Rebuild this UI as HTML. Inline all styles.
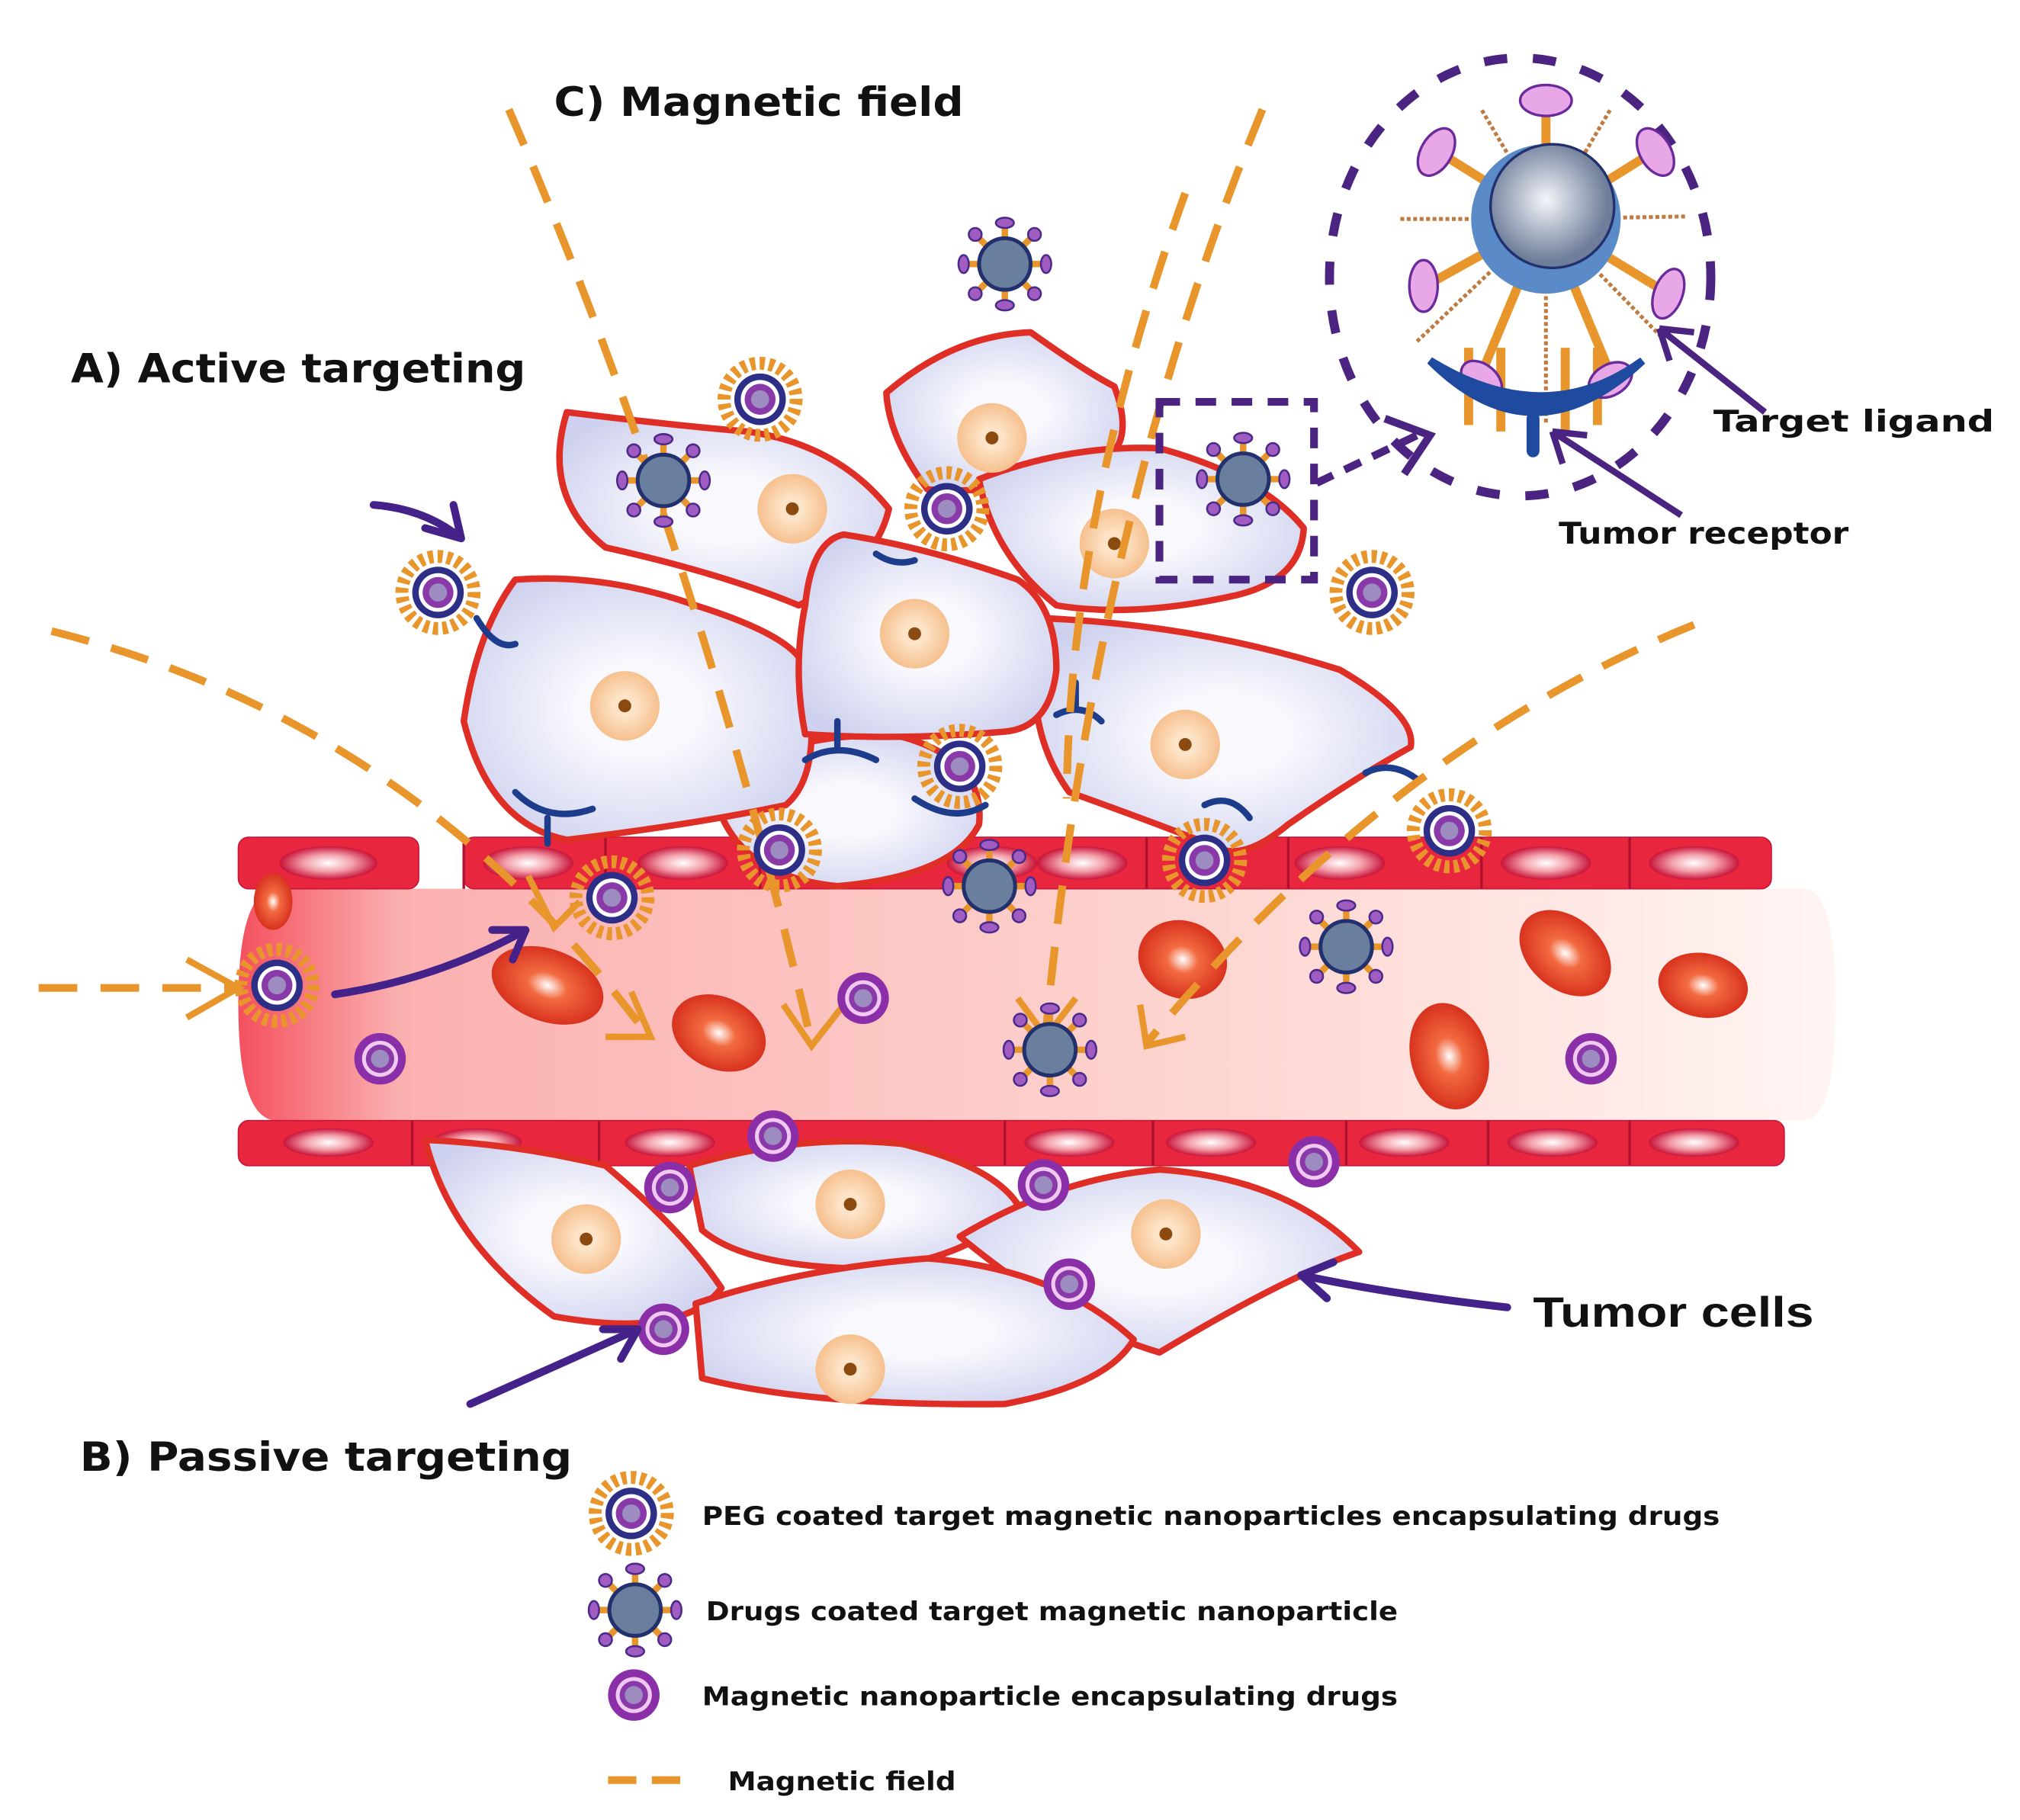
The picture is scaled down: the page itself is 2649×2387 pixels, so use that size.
<!DOCTYPE html>
<html><head><meta charset="utf-8"><style>html,body{margin:0;padding:0;background:#fff}svg{display:block}</style></head><body>
<svg width="2649" height="2387" viewBox="0 0 1568 1413" preserveAspectRatio="none" xmlns="http://www.w3.org/2000/svg" font-family="DejaVu Sans, Liberation Sans, sans-serif" font-weight="bold">
<defs>
<linearGradient id="lumen" x1="0" x2="1" y1="0" y2="0"><stop offset="0" stop-color="#f4505e"/><stop offset="0.1" stop-color="#fbb0b0"/><stop offset="0.6" stop-color="#fdd5d0"/><stop offset="1" stop-color="#fff5f3"/></linearGradient>
<radialGradient id="cellg" cx="0.5" cy="0.5" r="0.6"><stop offset="0.3" stop-color="#f8f8fd"/><stop offset="1" stop-color="#cdd0ee"/></radialGradient>
<radialGradient id="nuc"><stop offset="0.3" stop-color="#fde4c8"/><stop offset="1" stop-color="#f6c08e"/></radialGradient>
<radialGradient id="rbc"><stop offset="0" stop-color="#fff"/><stop offset="0.35" stop-color="#f26a40"/><stop offset="1" stop-color="#d8321e"/></radialGradient>
<radialGradient id="sph" cx="0.45" cy="0.45"><stop offset="0" stop-color="#f4f6fa"/><stop offset="1" stop-color="#6e7d99"/></radialGradient>
<radialGradient id="endo"><stop offset="0" stop-color="#fff"/><stop offset="0.5" stop-color="#f3a0aa"/><stop offset="1" stop-color="#c8143a"/></radialGradient>
<g id="peg">
<circle r="28" fill="none" stroke="#e8962c" stroke-width="10" stroke-dasharray="4 3.3"/>
<circle r="20" fill="#2c2f85"/><circle r="15" fill="#fff"/><circle r="12" fill="#8a3aa8"/><circle r="7" fill="#9c8cc0"/>
</g>
<g id="drug">
<g stroke="#e8962c" stroke-width="5"><line x1="0" y1="-32" x2="0" y2="32"/><line x1="-32" y1="0" x2="32" y2="0"/><line x1="-23" y1="-23" x2="23" y2="23"/><line x1="-23" y1="23" x2="23" y2="-23"/></g>
<g fill="#a05cc0" stroke="#4a2a8a" stroke-width="1.5"><ellipse cx="0" cy="-32" rx="7" ry="4"/><ellipse cx="0" cy="32" rx="7" ry="4"/><ellipse cx="-32" cy="0" rx="4" ry="7"/><ellipse cx="32" cy="0" rx="4" ry="7"/><ellipse cx="-23" cy="-23" rx="5" ry="5"/><ellipse cx="23" cy="23" rx="5" ry="5"/><ellipse cx="-23" cy="23" rx="5" ry="5"/><ellipse cx="23" cy="-23" rx="5" ry="5"/></g>
<circle r="20" fill="#6a7e9e" stroke="#23306e" stroke-width="3"/>
</g>
<g id="mag"><circle r="20" fill="#8a2fa8"/><circle r="14" fill="#f0c8f0"/><circle r="11" fill="#8a3aa8"/><circle r="7" fill="#9c8cc0"/></g>
<g id="cn"><circle r="27" fill="url(#nuc)"/><circle r="5" fill="#8a4a10"/></g>
</defs>
<rect width="1568" height="1413" fill="#fff"/>

<path d="M215 690 H1400 Q1425 690 1425 780 Q1425 870 1400 870 H215 Q185 870 185 780 Q185 690 215 690Z" fill="url(#lumen)"/>
<g fill="#e8273e" stroke="#c81538" stroke-width="1">
<rect x="185" y="650" width="140" height="40" rx="8"/><rect x="360" y="650" width="1015" height="40" rx="8"/>
<rect x="185" y="870" width="1200" height="35" rx="8"/>
</g>
<g fill="url(#endo)">
<ellipse cx="255" cy="670" rx="38" ry="13"/><ellipse cx="410" cy="670" rx="35" ry="13"/><ellipse cx="530" cy="670" rx="35" ry="13"/><ellipse cx="650" cy="670" rx="35" ry="13"/><ellipse cx="770" cy="670" rx="35" ry="13"/><ellipse cx="840" cy="670" rx="35" ry="13"/><ellipse cx="1040" cy="670" rx="35" ry="13"/><ellipse cx="1200" cy="670" rx="35" ry="13"/><ellipse cx="1315" cy="670" rx="35" ry="13"/>
<ellipse cx="255" cy="887" rx="35" ry="11"/><ellipse cx="370" cy="887" rx="35" ry="11"/><ellipse cx="520" cy="887" rx="35" ry="11"/><ellipse cx="830" cy="887" rx="35" ry="11"/><ellipse cx="940" cy="887" rx="35" ry="11"/><ellipse cx="1090" cy="887" rx="35" ry="11"/><ellipse cx="1205" cy="887" rx="35" ry="11"/><ellipse cx="1315" cy="887" rx="35" ry="11"/>
</g>
<g stroke="#b01030" stroke-width="2"><line x1="360" y1="650" x2="360" y2="690"/><line x1="470" y1="650" x2="470" y2="690"/><line x1="590" y1="650" x2="590" y2="690"/><line x1="890" y1="650" x2="890" y2="690"/><line x1="1000" y1="650" x2="1000" y2="690"/><line x1="1150" y1="650" x2="1150" y2="690"/><line x1="1265" y1="650" x2="1265" y2="690"/>
<line x1="320" y1="870" x2="320" y2="905"/><line x1="465" y1="870" x2="465" y2="905"/><line x1="780" y1="870" x2="780" y2="905"/><line x1="895" y1="870" x2="895" y2="905"/><line x1="1045" y1="870" x2="1045" y2="905"/><line x1="1155" y1="870" x2="1155" y2="905"/><line x1="1265" y1="870" x2="1265" y2="905"/></g>

<g fill="url(#rbc)">
<ellipse cx="212" cy="700" rx="15" ry="22"/>
<ellipse cx="425" cy="765" rx="45" ry="28" transform="rotate(20 425 765)"/>
<ellipse cx="558" cy="802" rx="38" ry="28" transform="rotate(25 558 802)"/>
<ellipse cx="918" cy="745" rx="35" ry="30" transform="rotate(20 918 745)"/>
<ellipse cx="1215" cy="740" rx="40" ry="28" transform="rotate(40 1215 740)"/>
<ellipse cx="1322" cy="765" rx="35" ry="25" transform="rotate(10 1322 765)"/>
<ellipse cx="1125" cy="820" rx="30" ry="42" transform="rotate(-15 1125 820)"/>
</g>

<g fill="url(#cellg)" stroke="#de2e26" stroke-width="5" stroke-linejoin="round">
<path d="M555 618 Q600 565 700 572 Q765 590 760 640 Q740 680 650 688 Q570 680 555 618Z"/>
<path d="M440 320 Q520 330 580 335 Q650 345 690 395 Q680 440 620 470 Q560 445 470 425 Q420 385 440 320Z"/>
<path d="M688 305 Q740 260 800 258 Q845 290 865 300 Q880 340 860 355 Q800 385 720 380 Q690 340 688 305Z"/>
<path d="M760 372 Q830 345 900 348 Q980 370 1012 410 Q1010 450 960 462 Q880 480 820 470 Q770 430 760 372Z"/>
<path d="M810 480 Q930 485 1040 520 Q1100 555 1095 580 Q1050 605 1000 640 Q970 665 950 660 Q900 640 830 615 Q790 560 810 480Z"/>
<path d="M400 450 Q470 445 540 470 Q620 495 625 520 Q640 600 610 625 Q540 640 440 652 Q380 640 360 560 Q370 490 400 450Z"/>
<path d="M655 415 Q720 425 790 450 Q820 470 820 520 Q815 565 780 568 Q700 575 625 570 Q615 520 625 470 Q630 420 655 415Z"/>
<path d="M330 885 Q400 888 470 905 Q530 955 560 1000 Q530 1040 430 1022 Q350 965 330 885Z"/>
<path d="M535 905 Q620 880 700 888 Q770 905 790 935 Q760 975 680 985 Q580 985 545 955Z"/>
<path d="M745 960 Q820 915 900 908 Q1000 915 1055 972 Q1000 990 900 1050 Q830 1030 745 960Z"/>
<path d="M540 1012 Q620 985 720 977 Q820 985 880 1040 Q860 1075 780 1090 Q630 1092 545 1070Z"/>
</g>
<g>
<use href="#cn" x="615" y="395"/><use href="#cn" x="770" y="340"/><use href="#cn" x="865" y="422"/><use href="#cn" x="710" y="492"/><use href="#cn" x="485" y="548"/><use href="#cn" x="920" y="578"/><use href="#cn" x="455" y="962"/><use href="#cn" x="660" y="935"/><use href="#cn" x="905" y="958"/><use href="#cn" x="660" y="1063"/>
</g>

<g fill="none" stroke="#1e3c8c" stroke-width="5" stroke-linecap="round">
<path d="M400 615 Q425 640 460 628 M425 635 V655"/>
<path d="M625 590 Q650 575 680 590 M650 580 V560"/>
<path d="M710 620 Q740 640 765 625"/>
<path d="M820 555 Q840 545 855 560 M835 550 V530"/>
<path d="M935 625 Q955 615 970 635"/>
<path d="M1060 600 Q1080 590 1100 605"/>
<path d="M370 480 Q385 505 400 500"/>
<path d="M680 430 Q695 440 710 435"/>
</g>

<g fill="none" stroke="#e8962c" stroke-width="6" stroke-dasharray="30 18" stroke-linecap="butt">
<path d="M395 85 Q540 420 630 810"/>
<path d="M980 85 Q850 400 812 800"/>
<path d="M920 150 Q830 400 828 620"/>
<path d="M40 490 Q320 560 500 800"/>
<path d="M1315 485 Q1080 580 890 810"/>
<path d="M30 767 H180"/>
</g>
<g fill="none" stroke="#e8962c" stroke-width="5">
<path d="M145 745 L185 767 L145 790"/>
<path d="M470 805 L505 805 L490 770"/>
<path d="M608 780 L630 812 L655 780"/>
<path d="M790 775 L812 805 L835 775"/>
<path d="M885 780 L890 812 L920 805"/>
<path d="M410 680 L430 720 L450 700"/>
</g>

<use href="#peg" x="590" y="310"/><use href="#peg" x="340" y="460"/><use href="#peg" x="735" y="395"/><use href="#peg" x="1065" y="460"/><use href="#peg" x="745" y="595"/><use href="#peg" x="605" y="660"/><use href="#peg" x="475" y="697"/><use href="#peg" x="935" y="668"/><use href="#peg" x="1125" y="645"/><use href="#peg" x="215" y="765"/>
<use href="#drug" x="780" y="205"/><use href="#drug" x="515" y="373"/><use href="#drug" x="965" y="372"/><use href="#drug" x="768" y="688"/><use href="#drug" x="1045" y="735"/><use href="#drug" x="815" y="815"/>
<use href="#mag" x="670" y="775"/><use href="#mag" x="295" y="822"/><use href="#mag" x="600" y="882"/><use href="#mag" x="520" y="922"/><use href="#mag" x="810" y="920"/><use href="#mag" x="830" y="997"/><use href="#mag" x="1020" y="902"/><use href="#mag" x="515" y="1032"/><use href="#mag" x="1235" y="822"/>

<rect x="900" y="312" width="120" height="138" fill="none" stroke="#4a2480" stroke-width="6" stroke-dasharray="16 12"/>
<path d="M1022 375 L1100 338" stroke="#4a2480" stroke-width="6" stroke-dasharray="14 10" fill="none"/>
<path d="M1075 325 L1110 338 L1090 368" stroke="#4a2480" stroke-width="6" fill="none"/>
<ellipse cx="1180" cy="215" rx="148" ry="170" fill="none" stroke="#4a2480" stroke-width="7" stroke-dasharray="18 20"/>
<g stroke="#e8962c" stroke-width="7">
<line x1="1200" y1="170" x2="1200" y2="80"/><line x1="1200" y1="170" x2="1120" y2="120"/><line x1="1200" y1="170" x2="1280" y2="120"/><line x1="1200" y1="170" x2="1110" y2="220"/><line x1="1200" y1="170" x2="1290" y2="225"/><line x1="1200" y1="170" x2="1150" y2="290"/><line x1="1200" y1="170" x2="1250" y2="290"/>
<line x1="1140" y1="270" x2="1140" y2="330"/><line x1="1165" y1="270" x2="1165" y2="335"/><line x1="1215" y1="270" x2="1215" y2="335"/><line x1="1240" y1="270" x2="1240" y2="330"/>
</g>
<g stroke="#c07a40" stroke-width="3" stroke-dasharray="3 2" fill="none">
<line x1="1200" y1="170" x2="1150" y2="85"/><line x1="1200" y1="170" x2="1250" y2="85"/><line x1="1200" y1="170" x2="1085" y2="170"/><line x1="1200" y1="170" x2="1310" y2="168"/><line x1="1200" y1="170" x2="1100" y2="265"/><line x1="1200" y1="170" x2="1290" y2="262"/><line x1="1200" y1="170" x2="1200" y2="330"/>
</g>
<circle cx="1200" cy="170" r="58" fill="#5a8ac8"/>
<circle cx="1205" cy="160" r="48" fill="url(#sph)" stroke="#23306e" stroke-width="2"/>
<g fill="#e8a8e8" stroke="#6a2a9a" stroke-width="2">
<ellipse cx="1200" cy="78" rx="20" ry="12"/><ellipse cx="1115" cy="118" rx="12" ry="20" transform="rotate(30 1115 118)"/><ellipse cx="1285" cy="118" rx="12" ry="20" transform="rotate(-30 1285 118)"/><ellipse cx="1105" cy="222" rx="11" ry="20"/><ellipse cx="1295" cy="228" rx="11" ry="20" transform="rotate(20 1295 228)"/><ellipse cx="1150" cy="295" rx="18" ry="12" transform="rotate(40 1150 295)"/><ellipse cx="1250" cy="295" rx="18" ry="12" transform="rotate(-30 1250 295)"/>
</g>
<path d="M1110 280 Q1190 360 1275 280 Q1200 335 1110 280Z" fill="#1e4aa0" stroke="#1e4aa0" stroke-width="6"/>
<path d="M1190 325 V350" stroke="#1e4aa0" stroke-width="10" stroke-linecap="round"/>
<g stroke="#4a2480" stroke-width="5" fill="none">
<path d="M1370 320 L1288 255 M1288 255 L1315 258 M1288 255 L1296 280"/>
<path d="M1305 400 L1205 335 M1205 335 L1232 338 M1205 335 L1213 360"/>
</g>

<g stroke="#45228a" stroke-width="6" fill="none" stroke-linecap="round">
<path d="M290 392 Q330 395 358 418 M358 418 L330 410 M358 418 L352 392"/>
<path d="M260 772 Q340 760 408 722 M408 722 L382 722 M408 722 L398 745"/>
<path d="M365 1090 L495 1032 M495 1032 L468 1032 M495 1032 L482 1055"/>
<path d="M1170 1015 Q1080 1005 1010 990 M1010 990 L1035 980 M1010 990 L1030 1008"/>
</g>

<g fill="#111">
<text x="430" y="90" font-size="31" textLength="318" lengthAdjust="spacingAndGlyphs">C) Magnetic field</text>
<text x="55" y="297" font-size="31" textLength="353" lengthAdjust="spacingAndGlyphs">A) Active targeting</text>
<text x="62" y="1142" font-size="31" textLength="382" lengthAdjust="spacingAndGlyphs">B) Passive targeting</text>
<text x="1190" y="1030" font-size="33" font-weight="bold" font-family="Liberation Sans, sans-serif" textLength="218" lengthAdjust="spacingAndGlyphs">Tumor cells</text>
<text x="1330" y="335" font-size="23" textLength="218" lengthAdjust="spacingAndGlyphs">Target ligand</text>
<text x="1210" y="422" font-size="23" textLength="225" lengthAdjust="spacingAndGlyphs">Tumor receptor</text>
<text x="545" y="1184" font-size="20" textLength="790" lengthAdjust="spacingAndGlyphs">PEG coated target magnetic nanoparticles encapsulating drugs</text>
<text x="548" y="1258" font-size="20" textLength="537" lengthAdjust="spacingAndGlyphs">Drugs coated target magnetic nanoparticle</text>
<text x="545" y="1324" font-size="20" textLength="540" lengthAdjust="spacingAndGlyphs">Magnetic nanoparticle encapsulating drugs</text>
<text x="565" y="1390" font-size="20" textLength="177" lengthAdjust="spacingAndGlyphs">Magnetic field</text>
</g>
<use href="#peg" x="490" y="1175"/>
<use href="#drug" x="493" y="1250"/>
<use href="#mag" x="492" y="1316"/>
<line x1="472" y1="1382" x2="540" y2="1382" stroke="#e8962c" stroke-width="6" stroke-dasharray="22 12"/>
</svg>
</body></html>
